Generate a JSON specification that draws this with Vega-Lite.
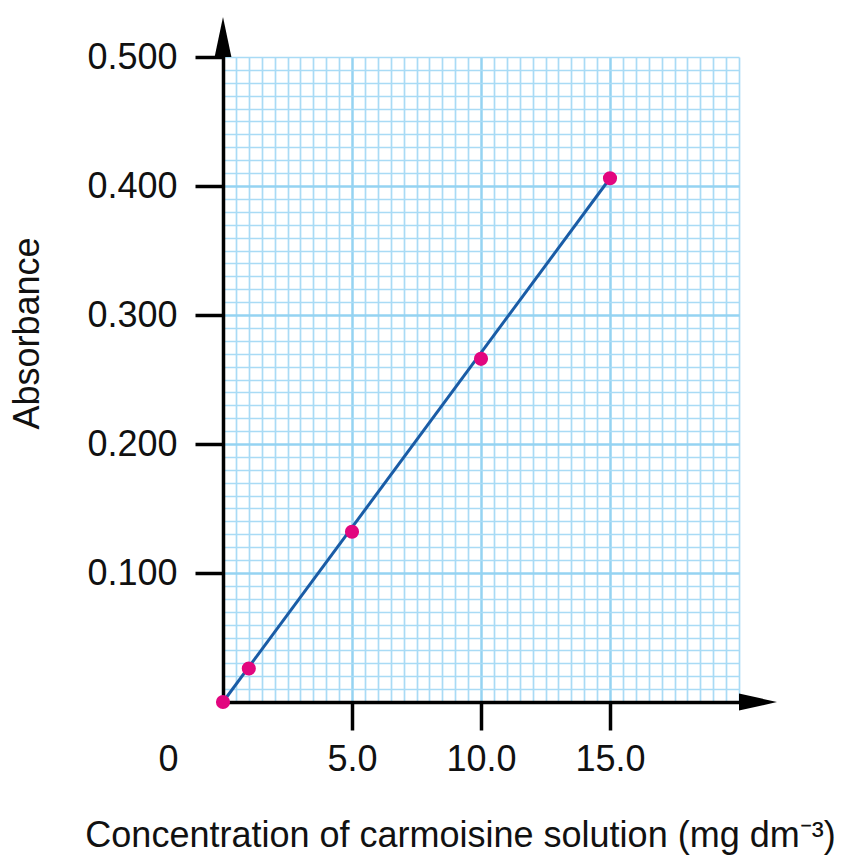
{
  "$schema": "https://vega.github.io/schema/vega-lite/v6.json",
  "width": 516,
  "height": 645,
  "autosize": "none",
  "padding": {"left": 223, "top": 57, "right": 106, "bottom": 153},
  "background": "white",
  "config": {"view": {"stroke": null}, "font": "Liberation Sans"},
  "datasets": {
    "pts": [
      {"conc": 0, "abs": 0},
      {"conc": 1, "abs": 0.026},
      {"conc": 5, "abs": 0.132},
      {"conc": 10, "abs": 0.266},
      {"conc": 15, "abs": 0.406}
    ],
    "fit": [
      {"conc": 0, "abs": 0},
      {"conc": 15, "abs": 0.406}
    ],
    "yarrow": [{"conc": 0, "abs": 0.5}],
    "xarrow": [{"conc": 20, "abs": 0}]
  },
  "layer": [
    {
      "data": {"name": "pts"},
      "mark": {"type": "point", "opacity": 0},
      "encoding": {
        "x": {"field": "conc", "type": "quantitative", "scale": {"domain": [0, 20], "nice": false, "zero": false},
          "axis": {"orient": "bottom", "values": [0.5,1,1.5,2,2.5,3,3.5,4,4.5,5.5,6,6.5,7,7.5,8,8.5,9,9.5,10.5,11,11.5,12,12.5,13,13.5,14,14.5,15.5,16,16.5,17,17.5,18,18.5,19,19.5,20],
            "grid": true, "gridColor": "#a9dbf5", "gridWidth": 1.7, "labels": false, "ticks": false, "domain": false, "title": null}},
        "y": {"field": "abs", "type": "quantitative", "scale": {"domain": [0, 0.5], "nice": false, "zero": false},
          "axis": {"orient": "left", "values": [0.01,0.02,0.03,0.04,0.05,0.06,0.07,0.08,0.09,0.11,0.12,0.13,0.14,0.15,0.16,0.17,0.18,0.19,0.21,0.22,0.23,0.24,0.25,0.26,0.27,0.28,0.29,0.31,0.32,0.33,0.34,0.35,0.36,0.37,0.38,0.39,0.41,0.42,0.43,0.44,0.45,0.46,0.47,0.48,0.49,0.5],
            "grid": true, "gridColor": "#a9dbf5", "gridWidth": 1.7, "labels": false, "ticks": false, "domain": false, "title": null}}
      }
    },
    {
      "data": {"name": "pts"},
      "mark": {"type": "point", "opacity": 0},
      "encoding": {
        "x": {"field": "conc", "type": "quantitative",
          "axis": {"orient": "bottom", "values": [0], "grid": false, "ticks": false, "domain": false, "title": null,
            "labelExpr": "'0'", "labelFontSize": 36, "labelColor": "#111111", "labelOffset": -65, "labelPadding": 40, "labelBaseline": "top"}},
        "y": {"field": "abs", "type": "quantitative",
          "axis": {"orient": "left", "values": [0.1,0.2,0.3,0.4], "grid": true, "gridColor": "#95d3f2", "gridWidth": 2.5,
            "labels": false, "ticks": false, "domain": false, "title": null}}
      }
    },
    {
      "data": {"name": "fit"},
      "mark": {"type": "line", "color": "#1a5ca6", "strokeWidth": 3},
      "encoding": {
        "x": {"field": "conc", "type": "quantitative",
          "axis": {"orient": "bottom", "values": [5, 10, 15], "format": ".1f", "grid": true, "gridColor": "#95d3f2", "gridWidth": 2.5,
            "domain": true, "domainColor": "#000000", "domainWidth": 3.5, "domainCap": "square",
            "ticks": true, "tickColor": "#000000", "tickWidth": 3.5, "tickSize": 28,
            "labelFontSize": 36, "labelColor": "#111111", "labelPadding": 12, "labelBaseline": "top",
            "title": "Concentration of carmoisine solution (mg dm⁻³)", "titleFontSize": 36, "titleFontWeight": "normal",
            "titleColor": "#111111", "titleX": 237, "titleY": 133, "titleBaseline": "middle", "titleAnchor": "middle"}},
        "y": {"field": "abs", "type": "quantitative",
          "axis": {"orient": "left", "values": [0.1, 0.2, 0.3, 0.4, 0.5], "format": ".3f", "grid": false,
            "domain": true, "domainColor": "#000000", "domainWidth": 3.5, "domainCap": "square",
            "ticks": true, "tickColor": "#000000", "tickWidth": 3.5, "tickSize": 28,
            "labelFontSize": 36, "labelColor": "#111111", "labelPadding": 18,
            "title": "Absorbance", "titleFontSize": 36, "titleFontWeight": "normal", "titleColor": "#111111",
            "titleX": -196, "titleY": 276, "titleBaseline": "middle", "titleAngle": -90}}
      }
    },
    {
      "data": {"name": "yarrow"},
      "mark": {"type": "point", "shape": "M0,-1L-0.42,1L0.42,1Z", "filled": true, "color": "#000000", "opacity": 1, "size": 1600, "yOffset": -20, "clip": false},
      "encoding": {
        "x": {"field": "conc", "type": "quantitative", "axis": null},
        "y": {"field": "abs", "type": "quantitative", "axis": null}
      }
    },
    {
      "data": {"name": "xarrow"},
      "mark": {"type": "point", "shape": "M1,0L-1,-0.45L-1,0.45Z", "filled": true, "color": "#000000", "opacity": 1, "size": 1444, "xOffset": 19, "clip": false},
      "encoding": {
        "x": {"field": "conc", "type": "quantitative", "axis": null},
        "y": {"field": "abs", "type": "quantitative", "axis": null}
      }
    },
    {
      "data": {"name": "pts"},
      "mark": {"type": "circle", "color": "#e2067f", "opacity": 1, "size": 200},
      "encoding": {
        "x": {"field": "conc", "type": "quantitative", "axis": null},
        "y": {"field": "abs", "type": "quantitative", "axis": null}
      }
    }
  ],
  "resolve": {"axis": {"x": "independent", "y": "independent"}}
}
